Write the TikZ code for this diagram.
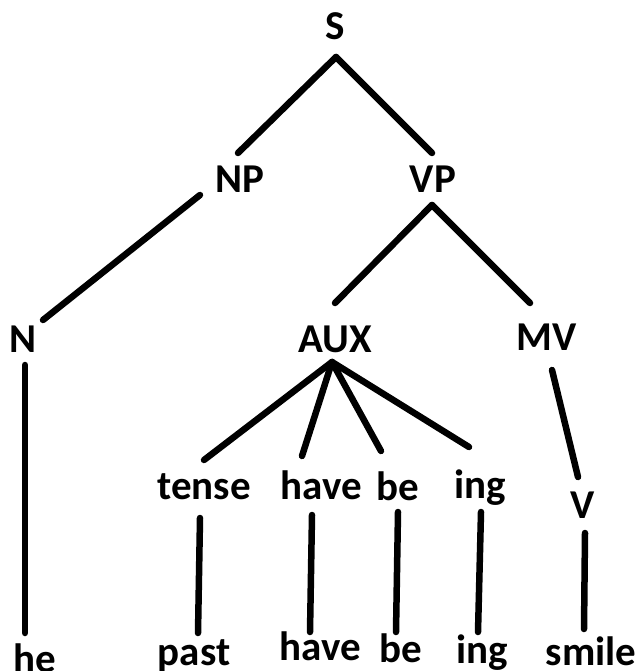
\documentclass[tikz,border=0pt]{standalone}
\usepackage{fontspec}
\setmainfont{Carlito}
\begin{document}
\begin{tikzpicture}[x=1pt,y=-1pt,
  lbl/.style={anchor=base,inner sep=0pt,font=\fontsize{41}{49}\selectfont\bfseries},
  edge/.style={line width=6.5pt,line cap=round}]
\useasboundingbox (0,0) rectangle (642,671);
% labels
\node[lbl] (S) at (335,40) {S};
\node[lbl] (NP) at (240,193) {NP};
\node[lbl] (VP) at (433,193) {VP};
\node[lbl] (N) at (23,352) {N};
\node[lbl] (AUX) at (335,352) {AUX};
\node[lbl] (MV) at (547,350) {MV};
\node[lbl] (tense) at (204,499) {tense};
\node[lbl] (haveA) at (321,499) {have};
\node[lbl] (beA) at (398,500) {be};
\node[lbl] (ingA) at (480,498) {ing};
\node[lbl] (V) at (583,518) {V};
\node[lbl] (he) at (35,672) {he};
\node[lbl] (past) at (194,665) {past};
\node[lbl] (haveB) at (320,660) {have};
\node[lbl] (beB) at (401,662) {be};
\node[lbl] (ingB) at (482,663) {ing};
\node[lbl] (smile) at (591,665) {smile};
% connector ends
\coordinate (S-d) at (336,57);
\coordinate (NP-u) at (238,153);
\coordinate (VP-u) at (432,153);
\coordinate (NP-d) at (200,195);
\coordinate (N-u) at (43,320);
\coordinate (VP-d) at (432,205);
\coordinate (AUX-u) at (335,303);
\coordinate (MV-u) at (530,303);
\coordinate (AUX-d) at (332,362);
\coordinate (tense-u) at (204,460);
\coordinate (haveA-u) at (302,456);
\coordinate (beA-u) at (381,451);
\coordinate (ingA-u) at (469,447);
\coordinate (MV-d) at (552,370);
\coordinate (V-u) at (578,477);
\coordinate (N-d) at (25,365);
\coordinate (he-u) at (25,633);
\coordinate (tense-d) at (200,518);
\coordinate (past-u) at (198,633);
\coordinate (haveA-d) at (312,515);
\coordinate (haveB-u) at (310,632);
\coordinate (beA-d) at (398,512);
\coordinate (beB-u) at (396,632);
\coordinate (ingA-d) at (481,512);
\coordinate (ingB-u) at (478,632);
\coordinate (V-d) at (585,533);
\coordinate (smile-u) at (584,629);
% connectors
\draw[edge] (S-d) -- (NP-u);
\draw[edge] (S-d) -- (VP-u);
\draw[edge] (NP-d) -- (N-u);
\draw[edge] (VP-d) -- (AUX-u);
\draw[edge] (VP-d) -- (MV-u);
\draw[edge] (AUX-d) -- (tense-u);
\draw[edge] (AUX-d) -- (haveA-u);
\draw[edge] (AUX-d) -- (beA-u);
\draw[edge] (AUX-d) -- (ingA-u);
\draw[edge] (MV-d) -- (V-u);
\draw[edge] (N-d) -- (he-u);
\draw[edge] (tense-d) -- (past-u);
\draw[edge] (haveA-d) -- (haveB-u);
\draw[edge] (beA-d) -- (beB-u);
\draw[edge] (ingA-d) -- (ingB-u);
\draw[edge] (V-d) -- (smile-u);
\end{tikzpicture}
\end{document}
